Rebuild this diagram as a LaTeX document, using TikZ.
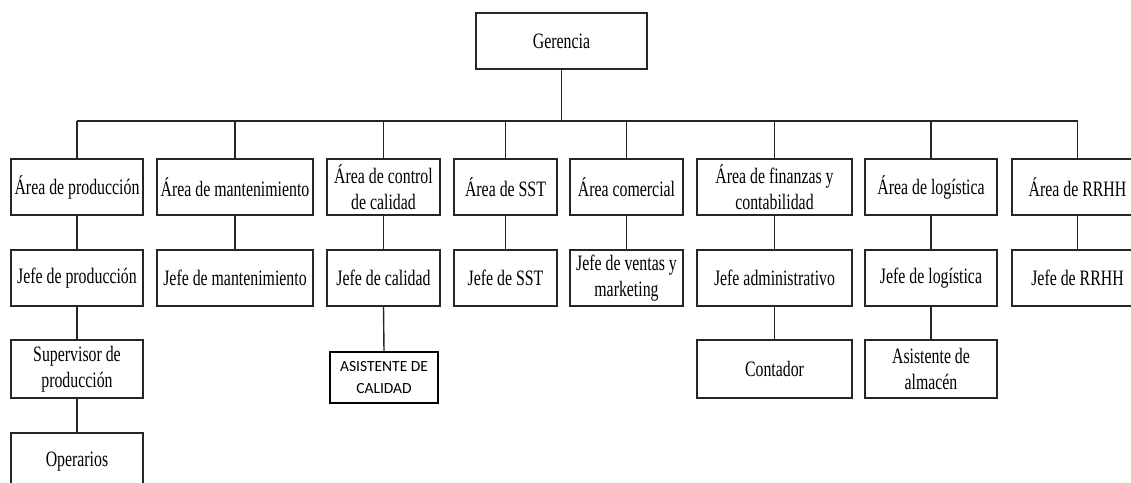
\documentclass[tikz,border=0pt]{standalone}
\usepackage{fontspec}
\setmainfont{Liberation Serif}[FakeStretch=0.72]
\newfontfamily\asisfont{Carlito}
\usetikzlibrary{positioning, calc}
\definecolor{linegray}{HTML}{262626}
\tikzset{
  cargo/.style={rectangle, draw=linegray, line width=1.4pt, fill=white,
    font=\fontsize{22}{26}\selectfont, align=center, inner sep=0pt,
    minimum height=56pt},
  cargo/asis/.style={rectangle, draw=black, line width=2.4pt, fill=white,
    font=\asisfont\fontsize{15.5}{22}\selectfont, align=center, inner sep=0pt,
    minimum width=108pt, minimum height=51pt},
  con/.style={draw=linegray, line width=1.4pt},
}

\begin{document}
\begin{tikzpicture}[x=1pt, y=-1pt]
\clip (0,0) rectangle (1131,482);
\fill[white] (0,0) rectangle (1131,482);

% gerencia
\node[cargo, minimum width=171pt] (G) at (561.5,41) {Gerencia};

% areas
\node[cargo, minimum width=132pt] (A1) at (77,187)    {Área de producción};
\node[cargo, minimum width=156pt] (A2) at (235,187)   {Área de mantenimiento};
\node[cargo, minimum width=113pt] (A3) at (383.5,187) {Área de control\\de calidad};
\node[cargo, minimum width=103pt] (A4) at (505.5,187) {Área de SST};
\node[cargo, minimum width=113pt] (A5) at (626.5,187) {Área comercial};
\node[cargo, minimum width=155pt] (A6) at (774.5,187) {Área de finanzas y\\contabilidad};
\node[cargo, minimum width=132pt] (A7) at (931,187)   {Área de logística};
\node[cargo, minimum width=131pt] (A8) at (1077.5,187) {Área de RRHH};

% jefes
\node[cargo, minimum width=132pt] (J1) at (77,278)    {Jefe de producción};
\node[cargo, minimum width=156pt] (J2) at (235,278)   {Jefe de mantenimiento};
\node[cargo, minimum width=113pt] (J3) at (383.5,278) {Jefe de calidad};
\node[cargo, minimum width=103pt] (J4) at (505.5,278) {Jefe de SST};
\node[cargo, minimum width=113pt] (J5) at (626.5,278) {Jefe de ventas y\\marketing};
\node[cargo, minimum width=155pt] (J6) at (774.5,278) {Jefe administrativo};
\node[cargo, minimum width=132pt] (J7) at (931,278)   {Jefe de logística};
\node[cargo, minimum width=131pt] (J8) at (1077.5,278) {Jefe de RRHH};

% tercer nivel
\node[cargo, minimum width=132pt, minimum height=58pt] (S1) at (77,369) {Supervisor de\\producción};
\node[cargo/asis] (Q3) at (384,377.5) {ASISTENTE DE\\CALIDAD};
\node[cargo, minimum width=155pt, minimum height=58pt] (C6) at (774.5,369) {Contador};
\node[cargo, minimum width=132pt, minimum height=58pt] (C7) at (931,369) {Asistente de\\almacén};
\node[cargo, minimum width=132pt, minimum height=57pt] (O1) at (77,461.5) {Operarios};

% lineas
\coordinate (bus) at (561.5,121);
\draw[con] (G.south) -- (bus);
\draw[con] (bus -| A1.north) -- (bus -| A8.north);
\foreach \n in {1,...,8}{
  \draw[con] (bus -| A\n.north) -- (A\n.north);
  \draw[con] (A\n.south) -- (J\n.north);
}
\draw[con] (J1.south) -- (S1.north);
\draw[con] (S1.south) -- (O1.north);
\draw[con] (J3.south) -- (Q3.north);
\draw[con] (J6.south) -- (C6.north);
\draw[con] (J7.south) -- (C7.north);

\end{tikzpicture}
\end{document}
